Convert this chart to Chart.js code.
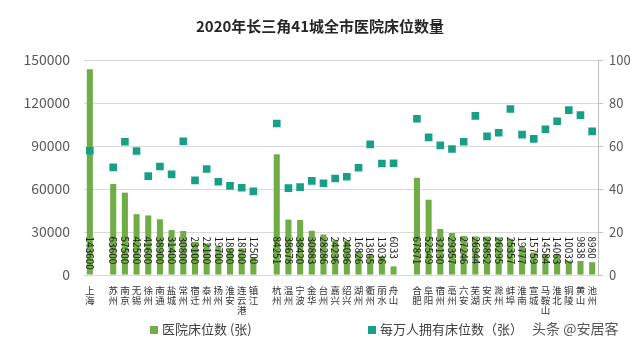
<!DOCTYPE html>
<html>
<head>
<meta charset="utf-8">
<script src="https://cdn.jsdelivr.net/npm/chart.js"></script>
<style>
    body { margin: 0; background: #fff; }
    #wrap { position: relative; width: 640px; height: 352px; font-family: "Noto Sans CJK SC", sans-serif; }
    #chart { position: absolute; left: 0; top: 0; }
    .leg { position: absolute; top: 319px; font-size: 13px; color: #404040; white-space: nowrap; }
    .leg i { display: inline-block; width: 8px; height: 8px; margin-right: 4px; vertical-align: 0px; }
    .mark { position: absolute; left: 532px; top: 318px; font-size: 14px; color: #555; white-space: nowrap; }
</style>
</head>
<body>
<div id="wrap">
    <canvas id="chart" width="640" height="352"></canvas>
    <div class="leg" style="left:150px"><i style="background:#70ad47"></i>医院床位数 (张)</div>
    <div class="leg" style="left:368px"><i style="background:#17a085"></i>每万人拥有床位数（张）</div>
    <div class="mark">头条 @安居客</div>
</div>
<script>
    // empty strings are the gaps between provinces
    const cities = ['上海', '',
        '苏州', '南京', '无锡', '徐州', '南通', '盐城', '常州', '宿迁', '泰州', '扬州', '淮安', '连云港', '镇江', '',
        '杭州', '温州', '宁波', '金华', '台州', '嘉兴', '绍兴', '湖州', '衢州', '丽水', '舟山', '',
        '合肥', '阜阳', '宿州', '亳州', '六安', '芜湖', '安庆', '滁州', '蚌埠', '淮南', '宣城', '马鞍山', '淮北', '铜陵', '黄山', '池州'];

    const beds = [143600, null,
        63600, 57500, 42500, 41600, 38900, 31400, 30800, 23100, 22100, 19700, 18900, 18700, 12500, null,
        84251, 38678, 38420, 30883, 28286, 24236, 24096, 16826, 13865, 13036, 6033, null,
        67871, 52549, 32130, 29357, 27246, 26944, 26852, 26295, 25357, 19777, 15759, 14584, 14063, 10032, 9838, 8980];

    const bedsPer10k = [57.8, null,
        50.1, 62, 57.7, 46, 50.5, 46.8, 62.2, 44, 49.3, 43.4, 41.5, 40.6, 38.9, null,
        70.5, 40.4, 40.9, 43.8, 42.7, 44.9, 45.7, 49.9, 60.8, 51.9, 52, null,
        72.7, 64, 60.3, 58.6, 62, 74, 64.5, 66.2, 77.2, 65.3, 63.3, 67.8, 71.5, 76.7, 74.4, 66.8];

    const fontName = '"Noto Sans CJK SC", sans-serif';

    // value written vertically inside the foot of each bar
    const barValues = {
        id: 'barValues',
        afterDatasetsDraw(chart) {
            const ctx = chart.ctx;
            const meta = chart.getDatasetMeta(0);
            ctx.save();
            ctx.font = '10px ' + fontName;
            ctx.fillStyle = '#1a1a1a';
            ctx.textAlign = 'left';
            ctx.textBaseline = 'middle';
            meta.data.forEach((bar, i) => {
                if (beds[i] == null) return;
                ctx.save();
                ctx.translate(bar.x, bar.base - 38);
                ctx.rotate(Math.PI / 2);
                ctx.fillText(String(beds[i]), 0, 0);
                ctx.restore();
            });
            ctx.restore();
        }
    };

    new Chart(document.getElementById('chart'), {
        data: {
            labels: cities,
            datasets: [{
                type: 'bar',
                label: '医院床位数 (张)',
                data: beds,
                backgroundColor: '#70ad47',
                barPercentage: 0.52,
                categoryPercentage: 1,
                yAxisID: 'y',
                order: 2
            }, {
                type: 'line',
                label: '每万人拥有床位数（张）',
                data: bedsPer10k,
                showLine: false,
                pointStyle: 'rect',
                pointRadius: 5.4,
                pointBackgroundColor: '#17a085',
                pointBorderWidth: 0,
                yAxisID: 'y1',
                order: 1
            }]
        },
        options: {
            responsive: false,
            animation: false,
            layout: { padding: { top: 8, bottom: 35, left: 0, right: 0 } },
            plugins: {
                legend: { display: false },
                tooltip: { enabled: false },
                title: {
                    display: true,
                    text: '2020年长三角41城全市医院床位数量',
                    font: { family: fontName, size: 15, weight: 'bold' },
                    color: '#262626',
                    padding: { top: 9, bottom: 25 }
                }
            },
            scales: {
                x: {
                    grid: { display: false },
                    border: { display: false },
                    ticks: {
                        autoSkip: false,
                        maxRotation: 0,
                        minRotation: 0,
                        padding: 2,
                        color: '#333',
                        font: { family: fontName, size: 9.5, lineHeight: 1.05 },
                        callback: (v, i) => cities[i].split('')
                    }
                },
                y: {
                    position: 'left',
                    min: 0,
                    max: 150000,
                    ticks: {
                        stepSize: 30000,
                        color: '#595959',
                        font: { family: fontName, size: 14 },
                        padding: 14,
                        callback: v => String(v)
                    },
                    grid: { color: '#d9d9d9', drawTicks: false },
                    border: { display: false },
                    afterFit(scale) { scale.width = 84; }
                },
                y1: {
                    position: 'right',
                    min: 0,
                    max: 100,
                    ticks: {
                        stepSize: 20,
                        color: '#595959',
                        font: { family: fontName, size: 13 },
                        padding: 6
                    },
                    grid: { drawOnChartArea: false, color: '#bfbfbf', tickLength: 5 },
                    border: { display: true, color: '#bfbfbf' },
                    afterFit(scale) { scale.width = 42; }
                }
            }
        },
        plugins: [barValues]
    });
</script>
</body>
</html>
